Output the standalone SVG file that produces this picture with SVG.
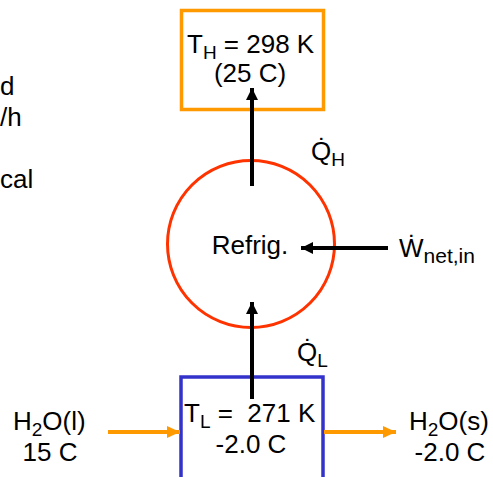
<svg xmlns="http://www.w3.org/2000/svg" width="493" height="477" viewBox="0 0 493 477">
<style>
text{font-family:"Liberation Sans",Arial,sans-serif;font-size:26px;fill:#000;white-space:pre}
.sub{font-size:19px}
.sub2{font-size:21px}
.blk{stroke:#000;stroke-width:4;fill:none}
.org{stroke:#FF9900;stroke-width:4;fill:none}
</style>
<defs>
<marker id="ab" markerUnits="userSpaceOnUse" markerWidth="12" markerHeight="12" refX="12" refY="6" orient="auto"><path d="M0,0 L12,6 L0,12 Z" fill="#000"/></marker>
<marker id="ao" markerUnits="userSpaceOnUse" markerWidth="13" markerHeight="12" refX="13" refY="6" orient="auto"><path d="M0,0 L13,6 L0,12 Z" fill="#FF9900"/></marker>
</defs>
<rect width="493" height="477" fill="#fff"/>
<g id="left-text">
<text x="0" y="95">d</text>
<text x="0" y="126">/h</text>
<text x="0" y="188">cal</text>
</g>
<g id="hot">
<rect x="181.5" y="10.5" width="142" height="99" fill="none" stroke="#FF9900" stroke-width="3.5"/>
<text x="187" y="53">T<tspan class="sub" dy="6">H</tspan><tspan dy="-6"> = 298 K</tspan></text>
<text x="250" y="82" text-anchor="middle">(25 C)</text>
</g>
<g id="refrig">
<circle cx="251" cy="244" r="83.5" fill="none" stroke="#FF3300" stroke-width="3"/>
<text x="250" y="254" text-anchor="middle">Refrig.</text>
</g>
<g id="cold">
<rect x="181" y="377" width="142" height="120" fill="none" stroke="#3333CC" stroke-width="3.5"/>
<text x="184" y="422">T<tspan class="sub" dy="6">L</tspan><tspan dy="-6"> =  271 K</tspan></text>
<text x="251" y="453" text-anchor="middle">-2.0 C</text>
</g>
<g id="water-in">
<text x="13" y="430">H<tspan class="sub" dy="6">2</tspan><tspan dy="-6">O(l)</tspan></text>
<text x="50" y="461" text-anchor="middle">15 C</text>
</g>
<g id="ice-out">
<text x="409" y="430">H<tspan class="sub" dy="6">2</tspan><tspan dy="-6">O(s)</tspan></text>
<text x="450" y="461" text-anchor="middle">-2.0 C</text>
</g>
<g id="labels">
<text x="311" y="160">Q&#775;<tspan class="sub" dy="6">H</tspan></text>
<text x="399" y="257">W&#775;<tspan class="sub2" dy="6">net,in</tspan></text>
<text x="297" y="361">Q&#775;<tspan class="sub" dy="6">L</tspan></text>
</g>
<g id="connectors">
<line class="blk" x1="252" y1="186" x2="252" y2="88" marker-end="url(#ab)"/>
<line class="blk" x1="252" y1="399" x2="252" y2="302" marker-end="url(#ab)"/>
<line class="blk" x1="388" y1="248" x2="301" y2="248" marker-end="url(#ab)"/>
<line class="org" x1="108" y1="432" x2="180" y2="432" marker-end="url(#ao)"/>
<line class="org" x1="324" y1="432" x2="396" y2="432" marker-end="url(#ao)"/>
</g>
</svg>
